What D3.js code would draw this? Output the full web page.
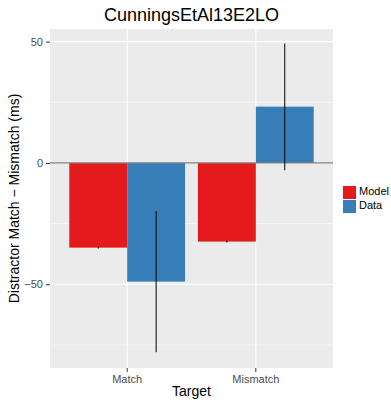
<!DOCTYPE html>
<html>
<head>
<meta charset="utf-8">
<script src="https://cdn.jsdelivr.net/npm/d3@7"></script>
<style>
  body { margin: 0; background: #fff; }
  text { font-family: "Liberation Sans", Arial, sans-serif; }
</style>
</head>
<body>
<svg id="chart" width="391" height="402"></svg>
<script>
// chart data
var targets = ['Match', 'Mismatch'];
var series = ['Model', 'Data'];
var modelVals = [-34.9, -32.4];
var modelLo = [-35.3, -32.8];
var modelHi = [-34.5, -32.0];
var dataVals = [-48.9, 23.2];
var dataLo = [-78.0, -3.0];
var dataHi = [-19.8, 49.2];
var yTicks = [-50, 0, 50];
var yMinor = [-75, -25, 25];

var colours = d3.scaleOrdinal().domain(series).range(['#e41a1c', '#377eb8']);

var rows = [];
targets.forEach(function(t, i){
  rows.push({target:t, series:'Model', value:modelVals[i], lo:modelLo[i], hi:modelHi[i]});
  rows.push({target:t, series:'Data', value:dataVals[i], lo:dataLo[i], hi:dataHi[i]});
});

var svg = d3.select('#chart');
var pLeft = 50, pRight = 333, pTop = 29, pBottom = 368;

var x = d3.scaleBand().domain(targets).range([pLeft, pRight]).paddingInner(0.1).paddingOuter(0.15);
var xInner = d3.scaleBand().domain(series).range([0, x.bandwidth()]);
var y = d3.scaleLinear().domain([-84.5, 55.2]).range([pBottom, pTop]);

//panel
svg.append('rect')
  .attr('x', pLeft).attr('y', pTop)
  .attr('width', pRight - pLeft).attr('height', pBottom - pTop)
  .attr('fill', '#ebebeb');

//grid
svg.selectAll('.minor').data(yMinor).enter()
  .append('line')
  .attr('x1', pLeft).attr('x2', pRight)
  .attr('y1', function(d){ return y(d) }).attr('y2', function(d){ return y(d) })
  .attr('stroke', '#fff').attr('stroke-width', 0.5);

svg.selectAll('.major').data(yTicks).enter()
  .append('line')
  .attr('x1', pLeft).attr('x2', pRight)
  .attr('y1', function(d){ return y(d) }).attr('y2', function(d){ return y(d) })
  .attr('stroke', '#fff').attr('stroke-width', 1.1);

svg.selectAll('.vgrid').data(targets).enter()
  .append('line')
  .attr('x1', function(d){ return x(d) + x.bandwidth()/2 })
  .attr('x2', function(d){ return x(d) + x.bandwidth()/2 })
  .attr('y1', pTop).attr('y2', pBottom)
  .attr('stroke', '#fff').attr('stroke-width', 1.1);

//bars
svg.selectAll('.bar').data(rows).enter()
  .append('rect')
  .attr('x', function(d){ return x(d.target) + xInner(d.series) })
  .attr('width', xInner.bandwidth())
  .attr('y', function(d){ return y(Math.max(0, d.value)) })
  .attr('height', function(d){ return Math.abs(y(d.value) - y(0)) })
  .attr('fill', function(d){ return colours(d.series) });

//zero line
svg.append('line')
  .attr('x1', pLeft).attr('x2', pRight)
  .attr('y1', y(0)).attr('y2', y(0))
  .attr('stroke', '#7f7f7f').attr('stroke-width', 1.3);

//error bars
svg.selectAll('.err').data(rows).enter()
  .append('line')
  .attr('x1', function(d){ return x(d.target) + xInner(d.series) + xInner.bandwidth()/2 })
  .attr('x2', function(d){ return x(d.target) + xInner(d.series) + xInner.bandwidth()/2 })
  .attr('y1', function(d){ return y(d.lo) })
  .attr('y2', function(d){ return y(d.hi) })
  .attr('stroke', '#000').attr('stroke-width', 1);

//axes
var yAxis = svg.append('g')
  .attr('transform', 'translate(' + pLeft + ',0)')
  .call(d3.axisLeft(y).tickValues(yTicks).tickSize(4).tickPadding(3).tickFormat(function(d){ return d < 0 ? '\u2212' + Math.abs(d) : d }));
yAxis.select('.domain').remove();
yAxis.selectAll('line').attr('stroke', '#333');
yAxis.selectAll('text').attr('fill', '#4d4d4d').style('font-size', '11px')
  .style('font-family', '"Liberation Sans", Arial, sans-serif');

var xAxis = svg.append('g')
  .attr('transform', 'translate(0,' + pBottom + ')')
  .call(d3.axisBottom(x).tickSize(4).tickPadding(3));
xAxis.select('.domain').remove();
xAxis.selectAll('line').attr('stroke', '#333');
xAxis.selectAll('text').attr('fill', '#4d4d4d').style('font-size', '11px')
  .style('font-family', '"Liberation Sans", Arial, sans-serif');

//titles
svg.append('text')
  .attr('x', (pLeft + pRight)/2).attr('y', 21)
  .style('text-anchor', 'middle').style('font-size', '18px')
  .text('CunningsEtAl13E2LO');

svg.append('text')
  .attr('x', (pLeft + pRight)/2).attr('y', 396)
  .style('text-anchor', 'middle').style('font-size', '14px')
  .text('Target');

svg.append('text')
  .attr('transform', 'translate(19,' + ((pTop + pBottom)/2) + ') rotate(-90)')
  .style('text-anchor', 'middle').style('font-size', '14px')
  .text('Distractor Match \u2212 Mismatch (ms)');

//legend
var legend = svg.append('g').attr('transform', 'translate(343,186)');
var keys = legend.selectAll('g').data(series).enter()
  .append('g')
  .attr('transform', function(d,i){ return 'translate(0,' + (i*14) + ')' });
keys.append('rect')
  .attr('width', 13).attr('height', 13)
  .attr('fill', function(d){ return colours(d) });
keys.append('text')
  .attr('x', 16).attr('y', 6.5)
  .style('dominant-baseline', 'middle')
  .style('font-size', '11px')
  .text(function(d){ return d });
</script>
</body>
</html>
